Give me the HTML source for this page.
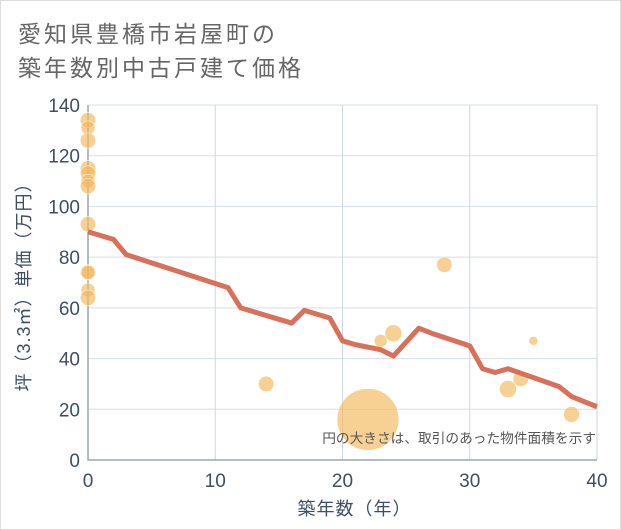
<!DOCTYPE html>
<html><head><meta charset="utf-8"><style>
body{margin:0;background:#fff;font-family:"Liberation Sans","Noto Sans CJK JP",sans-serif;}
#wrap{position:relative;width:619px;height:528px;border:1px solid #ddd;background:#fff;}
#title{position:absolute;left:17px;top:16px;font-size:23px;line-height:34px;color:#666;letter-spacing:3px;}
</style></head><body>
<div id="wrap">
<div id="title">愛知県豊橋市岩屋町の<br>築年数別中古戸建て価格</div>
<svg id="chart" width="621" height="530" style="position:absolute;left:-1px;top:-1px"></svg>
</div>
<script>
const lineYears=[0,2,3,11,12,16,17,19,20,21,23,24,26,27,30,31,32,33,37,38,40];
const lineValues=[90,87,81,68,60,54,59,56,47,45.5,43.5,41,52,50,45,36,34.5,36,29,25,21];
const bubbleYears=[0,0,0,0,0,0,0,0,0,0,0,0,14,22,23,24,28,33,34,35,38];
const bubbleValues=[134,131,126,115,113,110,108,93,74,74,67,64,30,16,47,50,77,28,32,47,18];
const bubbleAreas=[60,49,60,60,60,49,60,60,60,49,49,60,60,960,42,72,60,72,60,20,64];
const xTicks=[0,10,20,30,40];
const yTicks=[0,20,40,60,80,100,120,140];
const NS="http://www.w3.org/2000/svg";
const svg=document.getElementById('chart');
const X0=88,X1=597,Y0=460,Y1=105;
const xs=v=>X0+(v-0)/(40-0)*(X1-X0);
const ys=v=>Y0-(v-0)/(140-0)*(Y0-Y1);
function mk(t,a){const e=document.createElementNS(NS,t);for(const k in a)e.setAttribute(k,a[k]);svg.appendChild(e);return e;}
yTicks.forEach(v=>{
 const l=mk('line',{x1:X0,x2:X1,y1:ys(v),y2:ys(v),stroke:'#d5dfea','stroke-width':1});
 
 
 const t=mk('text',{x:X0-8,y:ys(v)+7,'text-anchor':'end','font-size':19,fill:'#3d4f63'});
 t.textContent=v;
 
 
});
xTicks.forEach(v=>{
 const l=mk('line',{x1:xs(v),x2:xs(v),y1:Y1,y2:Y0,stroke:'#cdd6e2','stroke-width':1});
 
 
 const t=mk('text',{x:xs(v),y:Y0+27,'text-anchor':'middle','font-size':19,fill:'#3d4f63'});
 t.textContent=v;
 
 
});
const ax=mk('path',{d:`M${X0} ${Y1}V${Y0}H${X1}`,stroke:'#9aa5b1','stroke-width':1.5,fill:'none'});


bubbleYears.forEach((yr,i)=>{
 const c=mk('circle',{cx:xs(yr),cy:ys(bubbleValues[i]),r:Math.sqrt(bubbleAreas[i]),fill:'#f3b95a','fill-opacity':0.65,stroke:'#fff','stroke-width':0.5});
 
 
});
const p=mk('polyline',{points:lineYears.map((y,i)=>xs(y)+','+ys(lineValues[i])).join(' '),fill:'none',stroke:'#d9705a','stroke-width':5,'stroke-linejoin':'round'});


const note=mk('text',{x:596,y:443,'text-anchor':'end','font-size':13.7,fill:'#555'});
note.textContent='円の大きさは、取引のあった物件面積を示す';


const xt=mk('text',{x:(X0+X1)/2+12,y:515,'text-anchor':'middle','font-size':18,fill:'#3d4f63','letter-spacing':1});
xt.textContent='築年数（年）';


const yt=mk('text',{x:0,y:0,'text-anchor':'middle','font-size':18,fill:'#3d4f63','letter-spacing':1,transform:`translate(30,${(Y0+Y1)/2}) rotate(-90)`});
yt.textContent='坪（3.3㎡）単価（万円）';


</script>
</body></html>
